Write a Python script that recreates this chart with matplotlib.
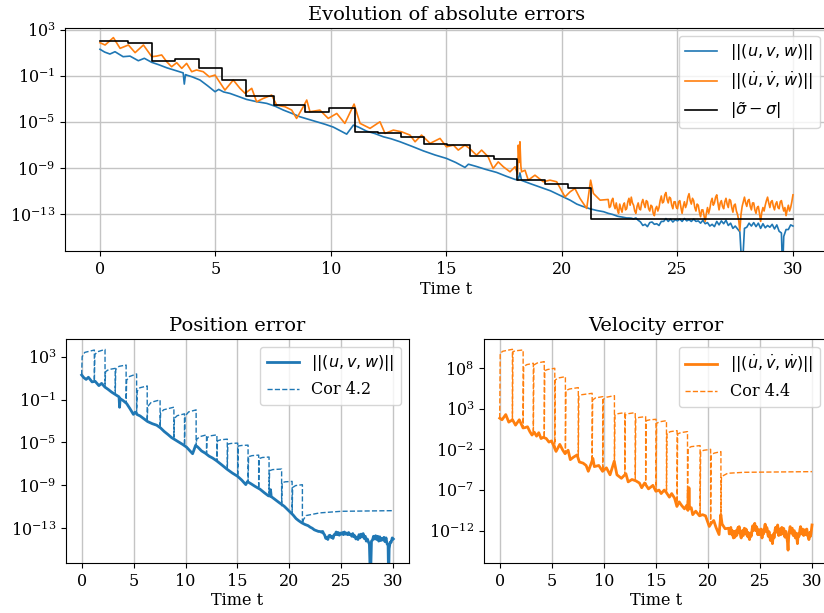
import numpy as np
import matplotlib
matplotlib.use("Agg")
import matplotlib.pyplot as plt
from matplotlib.ticker import FixedLocator, NullLocator

plt.rcParams['font.family'] = ['DejaVu Serif']
plt.rcParams['mathtext.fontset'] = 'dejavusans'
plt.rcParams['font.size'] = 11

# ---------------- data (log10 of errors) ----------------
# position error ||(u,v,w)||
pos_t = [0.0, 0.2, 0.43, 0.65, 1.0, 1.3, 1.66, 1.92, 2.24, 2.55, 2.89, 3.2, 3.46, 3.6, 3.65, 3.7,
         3.75, 4.0, 4.33, 4.65, 4.98, 5.14, 5.35, 5.63, 6.0, 6.35, 6.8, 7.22, 7.6, 7.94, 8.3, 8.66,
         9.0, 9.38, 9.75, 10.1, 10.4, 10.68, 10.85, 10.97, 11.2, 11.54, 11.9, 12.27, 12.6, 12.99,
         13.5, 14.0, 14.5, 15.0, 15.4, 15.8, 15.95, 16.3, 16.7, 17.17, 17.6, 17.97, 18.1, 18.18,
         18.25, 18.61, 19.0, 19.5, 20.06, 20.35, 20.64, 20.9, 21.2, 21.5, 21.8,
         22.0, 22.1, 22.2, 22.3, 22.4, 22.5, 22.6, 22.7, 22.8, 22.9, 23.0, 23.1, 23.2, 23.3, 23.4,
         23.5, 23.6, 23.7, 23.8, 23.9, 24.0, 24.1, 24.2, 24.3, 24.4, 24.5, 24.6, 24.7, 24.8, 24.9,
         25.0, 25.1, 25.2, 25.3, 25.4, 25.5, 25.6, 25.7, 25.8, 25.9, 26.0, 26.1, 26.2, 26.3, 26.4,
         26.5, 26.6, 26.7, 26.8, 26.9, 27.0, 27.1, 27.2, 27.3, 27.4, 27.5, 27.6, 27.7, 27.8, 27.9,
         28.0, 28.1, 28.2, 28.3, 28.4, 28.5, 28.6, 28.7, 28.8, 28.9, 29.0, 29.1, 29.2, 29.3, 29.4,
         29.5, 29.55, 29.6, 29.7, 29.8, 29.9, 30.0]
pos_log = [1.29, 1.05, 0.88, 1.08, 0.65, 0.7, 0.3, 0.51, 0.16, -0.05, -0.31, -0.5, -0.65, -0.75, -1.72, -0.9,
           -0.94, -1.1, -1.37, -1.85, -2.38, -2.18, -2.4, -2.53, -2.8, -3.05, -3.25, -3.39, -3.65, -3.97, -4.25, -4.55,
           -4.75, -4.98, -5.2, -5.44, -5.75, -6.05, -5.6, -5.27, -5.45, -5.79, -6.0, -6.28, -6.45, -6.71,
           -7.1, -7.5, -7.85, -8.15, -8.5, -8.93, -8.65, -8.85, -9.1, -9.36, -9.7, -9.97, -10.0, -9.4,
           -10.05, -10.32, -10.6, -10.95, -11.48, -11.76, -12.1, -12.3, -12.5, -12.65, -12.76,
           -12.9, -12.95, -13.0, -13.08, -13.15, -13.19, -13.22, -13.26, -13.3, -13.3, -13.32, -13.38, -13.3, -13.5, -13.65,
           -13.95, -13.85, -14.05, -13.7, -13.65, -13.85, -13.8, -13.95, -13.6, -13.6, -13.35, -13.6, -13.4, -13.65, -13.45,
           -13.55, -13.4, -13.6, -13.35, -13.55, -13.45, -13.6, -13.4, -13.6, -13.55, -13.75, -13.5, -13.8, -13.7, -14.0,
           -13.85, -14.05, -13.6, -13.9, -13.55, -13.8, -13.5, -13.95, -13.75, -14.2, -14.0, -14.25, -14.5, -18.0, -14.2,
           -14.1, -13.75, -14.0, -13.7, -14.05, -13.75, -14.2, -13.8, -14.15, -13.95, -14.1, -13.85, -14.25, -13.9, -14.45,
           -14.6, -18.0, -14.9, -14.3, -14.3, -13.9, -14.0]

# velocity error ||(u',v',w')||
vel_t = [0.0, 0.22, 0.58, 0.87, 1.23, 1.52, 1.88, 2.24, 2.45, 2.67, 2.89, 3.1, 3.32, 3.54, 3.75, 3.97,
         4.18, 4.47, 4.73, 4.98, 5.12, 5.41, 5.77, 6.06, 6.28, 6.57, 6.78, 7.07, 7.43, 7.65, 8.01, 8.3,
         8.51, 8.8, 8.95, 9.09, 9.52, 9.88, 10.25, 10.6, 11.0, 11.26, 11.69, 12.12, 12.34, 12.7, 13.06,
         13.42, 13.64, 13.92, 14.29, 14.72, 15.0, 15.3, 15.51, 15.8, 16.0, 16.3, 16.52, 16.8, 17.02,
         17.24, 17.46, 17.75, 17.97, 18.08, 18.11, 18.15, 18.18, 18.22, 18.25, 18.4, 18.54, 18.83,
         19.19, 19.48, 19.77, 20.13, 20.35, 20.56, 20.78, 21.07, 21.24, 21.36, 21.65,
         22.0, 22.05, 22.1, 22.15, 22.2, 22.25, 22.3, 22.35, 22.4, 22.45, 22.5, 22.55, 22.6, 22.65, 22.7, 22.75,
         22.8, 22.85, 22.9, 22.95, 23.0, 23.05, 23.1, 23.15, 23.2, 23.25, 23.3, 23.35, 23.4, 23.45, 23.5, 23.55,
         23.6, 23.65, 23.7, 23.75, 23.8, 23.85, 23.9, 23.95, 24.0, 24.05, 24.1, 24.15, 24.2, 24.25, 24.3, 24.35,
         24.4, 24.45, 24.5, 24.55, 24.6, 24.65, 24.7, 24.75, 24.8, 24.85, 24.9, 24.95, 25.0, 25.05, 25.1, 25.15,
         25.2, 25.25, 25.3, 25.35, 25.4, 25.45, 25.5, 25.55, 25.6, 25.65, 25.7, 25.75, 25.8, 25.85, 25.9, 25.95,
         26.0, 26.05, 26.1, 26.15, 26.2, 26.25, 26.3, 26.35, 26.4, 26.45, 26.5, 26.55, 26.6, 26.65, 26.7, 26.75,
         26.8, 26.85, 26.9, 26.95, 27.0, 27.05, 27.1, 27.15, 27.2, 27.25, 27.3, 27.35, 27.4, 27.45, 27.5, 27.55,
         27.6, 27.65, 27.7, 27.75, 27.8, 27.85, 27.9, 27.95, 28.0, 28.05, 28.1, 28.15, 28.2, 28.25, 28.3, 28.35,
         28.4, 28.45, 28.5, 28.55, 28.6, 28.65, 28.7, 28.75, 28.8, 28.85, 28.9, 28.95, 29.0, 29.05, 29.1, 29.15,
         29.2, 29.25, 29.3, 29.35, 29.4, 29.45, 29.5, 29.55, 29.6, 29.65, 29.7, 29.75, 29.8, 29.85, 29.9, 29.95,
         30.0]
vel_log = [1.86, 1.66, 2.30, 1.37, 1.66, 1.0, 1.66, 0.65, 0.7, 0.8, 0.21, -0.22, 0.13, -0.36, 0.07, -0.65,
           -0.5, -0.65, -1.09, -0.94, -1.37, -2.24, -1.37, -2.09, -2.52, -2.09, -3.25, -2.96, -2.67, -3.54, -3.68, -3.97,
           -4.69, -3.68, -3.1, -4.11, -3.97, -4.69, -4.26, -5.12, -3.45, -5.12, -5.55, -4.98, -5.99, -5.7, -5.85,
           -6.13, -6.71, -6.13, -6.85, -6.42, -7.15, -7.0, -7.43, -7.0, -7.29, -7.87, -7.43, -8.0, -9.02,
           -8.45, -8.87, -9.31, -8.87, -9.5, -7.0, -8.5, -6.71, -8.8, -9.31, -9.17, -10.03, -9.6,
           -10.17, -10.03, -10.17, -11.48, -11.04, -10.75, -11.61, -12.48, -10.03, -11.18, -11.76,
           -11.7, -12.4, -12.3, -11.8, -11.6, -12.2, -12.5, -12.0, -12.6, -12.9, -12.1, -12.5, -12.8, -12.2, -12.0, -12.6,
           -12.5, -11.9, -11.6, -12.2, -11.5, -12.0, -12.2, -12.7, -12.9, -12.3, -12.0, -12.5, -12.6, -12.0, -11.7, -12.1,
           -12.4, -11.8, -11.9, -12.5, -12.7, -12.2, -12.3, -12.9, -13.1, -12.5, -12.3, -12.7, -12.4, -11.8, -11.4, -12.0,
           -11.9, -11.3, -11.1, -11.7, -12.0, -11.5, -11.6, -12.2, -12.5, -11.9, -11.9, -12.4, -12.5, -11.9, -11.8, -12.4,
           -12.9, -12.3, -11.9, -12.4, -12.1, -11.5, -11.2, -11.8, -12.1, -11.6, -11.8, -12.4, -12.7, -12.1, -12.2, -12.8,
           -13.2, -12.6, -12.6, -13.1, -13.6, -12.9, -12.4, -12.9, -12.5, -11.9, -11.6, -12.2, -12.0, -11.5, -11.3, -12.0,
           -12.6, -12.0, -11.8, -12.3, -12.5, -11.9, -11.6, -12.1, -12.4, -11.7, -11.8, -12.4, -12.8, -12.2, -12.1, -12.7,
           -13.0, -13.5, -14.4, -13.0, -12.3, -11.9, -11.5, -12.0, -12.3, -11.8, -11.7, -12.3, -12.6, -12.0, -12.0, -12.6,
           -12.9, -12.4, -12.3, -12.9, -13.6, -12.8, -12.4, -12.7, -12.2, -11.8, -11.5, -12.0, -12.4, -11.9, -11.8, -12.3,
           -12.6, -12.1, -11.9, -12.4, -12.5, -11.9, -11.8, -12.3, -12.7, -12.4, -13.1, -12.6, -12.2, -12.7, -12.4, -11.9,
           -11.3]

# |sigma~ - sigma| (piecewise constant)
sigma_t = [0.0, 1.22, 2.25, 3.23, 4.28, 5.29, 6.31, 7.55, 8.88, 9.9, 11.02, 12.02, 13.02, 14.02,
           15.02, 16.02, 17.04, 18.04, 19.25, 20.26, 21.25, 30.0]
sigma_log = [1.98, 1.86, 0.27, 0.42, -0.36, -1.4, -2.78, -3.56, -4.11, -3.82, -5.9, -5.92, -6.31, -6.86,
             -6.95, -7.93, -8.19, -10.03, -10.4, -10.75, -13.35, -13.35]

# Cor 4.2 bound (position)
cor42_t = [0.0, 0.05, 0.3, 1.22, 1.22, 1.27, 1.5, 2.25, 2.25, 2.3, 2.6, 3.23, 3.23, 3.28, 3.6, 4.28,
           4.28, 4.33, 4.6, 5.29, 5.29, 5.34, 5.6, 6.31, 6.31, 6.36, 6.7, 7.55, 7.55, 7.6, 7.9, 8.88,
           8.88, 8.93, 9.2, 9.9, 9.9, 9.95, 10.3, 11.02, 11.02, 11.07, 11.4, 12.02, 12.02, 12.07, 12.4, 13.02,
           13.02, 13.07, 13.4, 14.02, 14.02, 14.07, 14.4, 15.02, 15.02, 15.07, 15.4, 16.02,
           16.02, 16.07, 16.4, 17.04, 17.04, 17.09, 17.4, 18.04, 18.04, 18.09, 18.4, 19.25,
           19.25, 19.3, 19.6, 20.26, 20.26, 20.31, 20.6, 21.25, 21.25, 21.35, 21.6, 22.9, 25.0, 30.0]
cor42_log = [1.29, 3.0, 3.4, 3.62, 0.7, 3.2, 3.45, 3.68, 0.16, 1.6, 1.8, 1.91, -0.5, 1.8, 2.1, 2.22,
             -1.35, 0.8, 1.15, 1.39, -2.3, -0.25, 0.1, 0.27, -3.03, -1.65, -1.25, -1.03, -3.6, -2.25, -1.95, -1.71,
             -4.7, -2.75, -2.5, -2.33, -5.3, -2.55, -2.15, -1.96, -5.3, -4.7, -4.45, -4.29, -6.0, -4.55, -4.38, -4.29,
             -6.75, -4.85, -4.75, -4.69, -7.5, -5.15, -5.09, -5.06, -8.17, -5.33, -5.28, -5.25,
             -8.7, -6.33, -6.23, -6.18, -9.3, -6.5, -6.4, -6.36, -9.99, -7.63, -7.53, -7.48,
             -10.9, -8.75, -8.67, -8.63, -11.6, -9.2, -9.02, -8.94, -12.6, -12.2, -11.82, -11.57, -11.42, -11.36]

# Cor 4.4 bound (velocity)
cor44_t = [0.0, 0.05, 0.3, 1.22, 1.22, 1.27, 1.5, 2.25, 2.25, 2.3, 2.6, 3.23, 3.23, 3.28, 3.6, 4.28,
           4.28, 4.33, 4.6, 5.29, 5.29, 5.34, 5.6, 6.31, 6.31, 6.36, 6.7, 7.55, 7.55, 7.6, 7.9, 8.88,
           8.88, 8.93, 9.2, 9.9, 9.9, 9.95, 10.3, 11.02, 11.02, 11.07, 11.4, 12.02, 12.02, 12.07, 12.4, 13.02,
           13.02, 13.07, 13.4, 14.02, 14.02, 14.07, 14.4, 15.02, 15.02, 15.07, 15.4, 16.02,
           16.02, 16.07, 16.4, 17.04, 17.04, 17.09, 17.4, 18.04, 18.04, 18.09, 18.4, 19.25,
           19.25, 19.3, 19.6, 20.26, 20.26, 20.31, 20.6, 21.25, 21.25, 21.3, 21.9, 23.5, 30.0]
cor44_log = [1.86, 9.85, 10.1, 10.34, 1.66, 10.05, 10.15, 10.26, 0.65, 8.2, 8.45, 8.62, -0.05, 8.41, 8.65, 8.82,
             -0.55, 7.71, 7.85, 8.0, -1.8, 6.56, 6.8, 6.97, -2.45, 5.25, 5.45, 5.62, -3.1, 4.59, 4.75, 4.92,
             -3.5, 4.1, 4.35, 4.51, -4.65, 4.18, 4.45, 4.63, -3.6, 2.25, 2.42, 2.54, -5.1, 2.25, 2.42, 2.54,
             -5.85, 1.84, 1.95, 2.05, -6.4, 1.55, 1.65, 1.72, -7.1, 1.23, 1.42, 1.55,
             -7.35, 0.0, 0.2, 0.32, -9.0, -0.09, 0.08, 0.2, -9.5, -1.85, -1.65, -1.52,
             -10.15, -2.26, -2.1, -1.98, -11.2, -2.67, -2.45, -2.26, -10.0, -5.34, -4.93, -4.81, -4.73]

BLUE = '#1f77b4'
ORANGE = '#ff7f0e'
GRID = '#c4c4c4'


def pw(a):
    return np.power(10.0, np.asarray(a, dtype=float))


fig = plt.figure(figsize=(8.24, 6.13), dpi=100)
ax_top = fig.add_axes([0.0793, 0.5905, 0.9251, 0.3638])
ax_pos = fig.add_axes([0.0802, 0.0816, 0.4160, 0.3654])
ax_vel = fig.add_axes([0.5875, 0.0816, 0.4169, 0.3654])

# ---- top
ax_top.plot(pos_t, pw(pos_log), color=BLUE, lw=1.2, label=r'$||(u,v,w)||$')
ax_top.plot(vel_t, pw(vel_log), color=ORANGE, lw=1.2, label=r'$||(\dot{u},\dot{v},\dot{w})||$')
ax_top.step(sigma_t, pw(sigma_log), where='post', color='black', lw=1.2, label=r'$|\tilde{\sigma}-\sigma|$')
ax_top.set_yscale('log')
ax_top.set_ylim(10**-16.16, 10**3.13)
ax_top.yaxis.set_major_locator(FixedLocator([1e3, 1e-1, 1e-5, 1e-9, 1e-13]))
ax_top.grid(True, color=GRID, lw=1.0)
ax_top.set_title('Evolution of absolute errors', fontsize=14)
ax_top.legend(loc='upper right', fontsize=11.5)

# ---- position
ax_pos.plot(pos_t, pw(pos_log), color=BLUE, lw=2.0, label=r'$||(u,v,w)||$')
ax_pos.plot(cor42_t, pw(cor42_log), color=BLUE, lw=1.0, ls='--', label='Cor 4.2')
ax_pos.set_yscale('log')
ax_pos.set_ylim(10**-16.24, 10**4.65)
ax_pos.yaxis.set_major_locator(FixedLocator([1e3, 1e-1, 1e-5, 1e-9, 1e-13]))
ax_pos.grid(True, axis='x', color=GRID, lw=1.0)
ax_pos.set_title('Position error', fontsize=14)
ax_pos.legend(loc='upper right', fontsize=11.5)

# ---- velocity
ax_vel.plot(vel_t, pw(vel_log), color=ORANGE, lw=2.0, label=r'$||(\dot{u},\dot{v},\dot{w})||$')
ax_vel.plot(cor44_t, pw(cor44_log), color=ORANGE, lw=1.0, ls='--', label='Cor 4.4')
ax_vel.set_yscale('log')
ax_vel.set_ylim(10**-15.98, 10**11.61)
ax_vel.yaxis.set_major_locator(FixedLocator([1e8, 1e3, 1e-2, 1e-7, 1e-12]))
ax_vel.grid(True, axis='x', color=GRID, lw=1.0)
ax_vel.set_title('Velocity error', fontsize=14)
ax_vel.legend(loc='upper right', fontsize=11.5)

for ax in (ax_top, ax_pos, ax_vel):
    ax.set_xlim(-1.5, 31.5)
    ax.set_xticks([0, 5, 10, 15, 20, 25, 30])
    ax.yaxis.set_minor_locator(NullLocator())
    ax.set_xlabel('Time t', fontsize=11.5, labelpad=2)
    ax.tick_params(labelsize=11.5)

fig.savefig('out.png', dpi=100)
